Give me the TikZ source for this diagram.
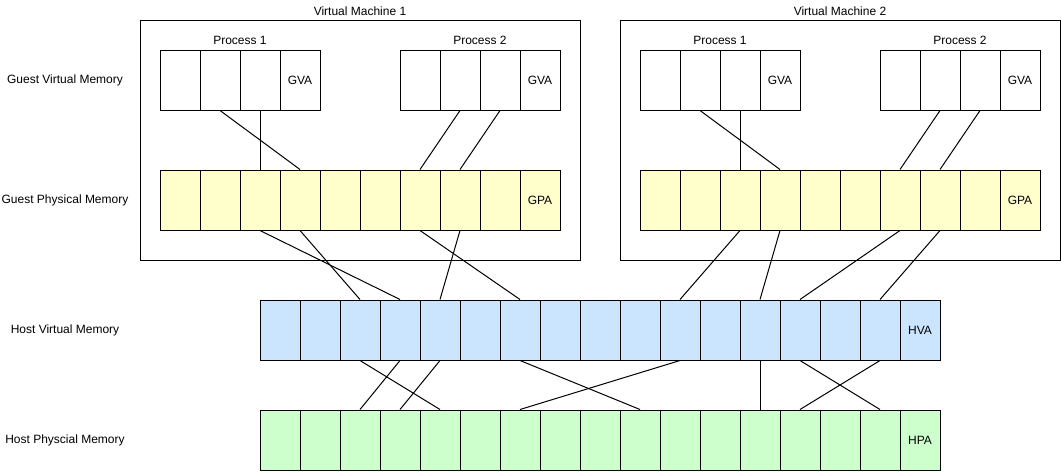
\documentclass[tikz,border=0pt]{standalone}
\usepackage{fontspec}
\setmainfont{Liberation Sans}
\definecolor{gpayellow}{HTML}{FFFFCC}
\definecolor{hvablue}{HTML}{CCE5FF}
\definecolor{hpagreen}{HTML}{CCFFCC}
\begin{document}
\begin{tikzpicture}[x=0.75pt,y=-0.75pt,line width=0.75pt,
  every node/.style={font=\fontsize{9}{11}\selectfont},
  cell/.style={draw,minimum width=30pt,minimum height=45pt,inner sep=0pt},
  vmbox/.style={draw,minimum width=330pt,minimum height=180pt,inner sep=0pt}]
\useasboundingbox (0,0) rectangle (1061,472);
% row labels
\node (lgva) at (65,80) {Guest Virtual Memory};
\node (lgpa) at (65,200) {Guest Physical Memory};
\node (lhva) at (65,330) {Host Virtual Memory};
\node (lhpa) at (65,440) {Host Physcial Memory};
% virtual machines
\foreach \vm/\dx in {1/0,2/480} {
  \node[vmbox] (vm\vm) at (360+\dx,140) {};
  \node (vm\vm title) at (360+\dx,11) {Virtual Machine \vm};
  \node (proc\vm-1) at (240+\dx,40) {Process 1};
  \node (proc\vm-2) at (480+\dx,40) {Process 2};
  \foreach \i in {1,2,3} {
    \node[cell] (gva\vm-1-\i) at (140+\dx+40*\i,80) {};
    \node[cell] (gva\vm-2-\i) at (380+\dx+40*\i,80) {};
  }
  \node[cell] (gva\vm-1-4) at (300+\dx,80) {GVA};
  \node[cell] (gva\vm-2-4) at (540+\dx,80) {GVA};
  \foreach \i in {1,...,9}
    \node[cell,fill=gpayellow] (gpa\vm-\i) at (140+\dx+40*\i,200) {};
  \node[cell,fill=gpayellow] (gpa\vm-10) at (540+\dx,200) {GPA};
  \draw (gva\vm-1-2.south) -- (gpa\vm-4.north);
  \draw (gva\vm-1-3.south) -- (gpa\vm-3.north);
  \draw (gva\vm-2-2.south) -- (gpa\vm-7.north);
  \draw (gva\vm-2-3.south) -- (gpa\vm-8.north);
}
% host memory
\foreach \i in {1,...,16} {
  \node[cell,fill=hvablue] (hva\i) at (240+40*\i,330) {};
  \node[cell,fill=hpagreen] (hpa\i) at (240+40*\i,440) {};
}
\node[cell,fill=hvablue] (hva17) at (920,330) {HVA};
\node[cell,fill=hpagreen] (hpa17) at (920,440) {HPA};
\foreach \a/\b in {1-3/4,1-4/3,1-7/7,1-8/5,2-3/11,2-4/13,2-7/14,2-8/16}
  \draw (gpa\a.south) -- (hva\b.north);
\foreach \a/\b in {3/5,4/3,5/4,7/10,11/7,13/13,14/16,16/14}
  \draw (hva\a.south) -- (hpa\b.north);
\end{tikzpicture}
\end{document}
